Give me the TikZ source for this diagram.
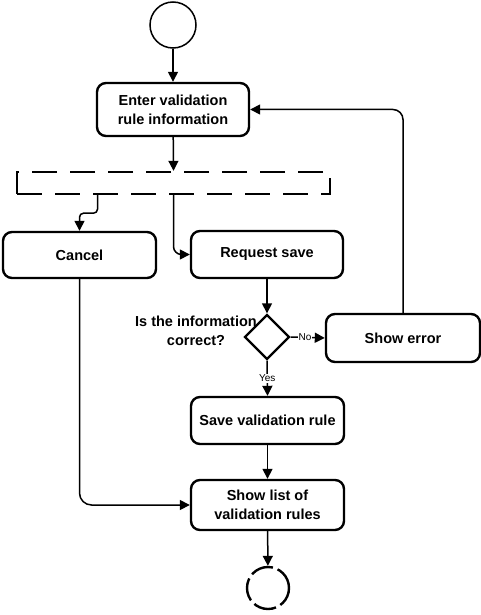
\documentclass[tikz,border=0pt]{standalone}
\usepackage{fontspec}
\setmainfont{Liberation Sans}
\usepackage{tikz}
\usetikzlibrary{shapes.geometric, arrows.meta, positioning}

\begin{document}
\begin{tikzpicture}[x=1pt, y=-1pt,
    action/.style={draw, line width=2.4pt, rounded corners=9pt, align=center,
                   font=\fontsize{14.5}{19}\selectfont\bfseries, inner sep=0pt},
    flow/.style={line width=1.5pt, -{Triangle[length=10pt,width=10pt]}},
    guard/.style={font=\fontsize{10}{11}\selectfont, fill=white, inner sep=1pt}]
    \useasboundingbox (0,0) rectangle (481,615);

    % start and end
    \node[circle, draw, line width=1.5pt, minimum size=46pt] (start) at (173,25) {};
    \node[circle, draw, line width=2.4pt, dash pattern=on 23pt off 5pt,
          minimum size=42pt] (stop) at (268,588) {};

    % actions
    \node[action, minimum width=152pt, minimum height=53pt] (enter) at (173,109.5)
        {Enter validation\\rule information};
    \node[draw, line width=2.4pt, dash pattern=on 25pt off 13pt,
          minimum width=313pt, minimum height=22pt] (fork) at (173.5,183) {};
    \node[action, minimum width=153pt, minimum height=46pt] (cancel) at (79.5,255) {Cancel};
    \node[action, minimum width=152pt, minimum height=47pt] (reqsave) at (267,254.5) {Request save};
    \node[action, minimum width=154pt, minimum height=48pt] (showerr) at (403,338) {Show error};
    \node[action, minimum width=153pt, minimum height=47pt] (saverule) at (267.5,420.5) {Save validation rule};
    \node[action, minimum width=153pt, minimum height=50pt] (showlist) at (267.5,505)
        {Show list of\\validation rules};

    % decision
    \node[diamond, draw, line width=2.4pt, minimum size=45pt, inner sep=0pt] (check) at (267,337) {};
    \node[align=center, font=\fontsize{14.5}{19}\selectfont\bfseries] (question) at (196,331)
        {Is the information\\correct?};

    % connectors
    \draw[flow] (start) -- (enter);
    \draw[flow] (enter) -- (fork.north);
    \draw[flow, rounded corners=4pt] ([xshift=-76pt]fork.south) -- ++(0,18) -| (cancel.north);
    \draw[flow, rounded corners=8pt] (fork.south) |- (reqsave.west);
    \draw[flow] (reqsave) -- (check);
    \draw[flow] (check.east) -- node[guard, pos=0.42] {No} (showerr.west);
    \draw[flow, rounded corners=10pt] (showerr.north) |- (enter.east);
    \draw[flow] (check.south) -- node[guard, pos=0.5] {Yes} (saverule.north);
    \draw[flow] (saverule) -- (showlist);
    \draw[flow, rounded corners=12pt] (cancel.south) |- (showlist.west);
    \draw[flow] (showlist) -- (stop);
\end{tikzpicture}
\end{document}
